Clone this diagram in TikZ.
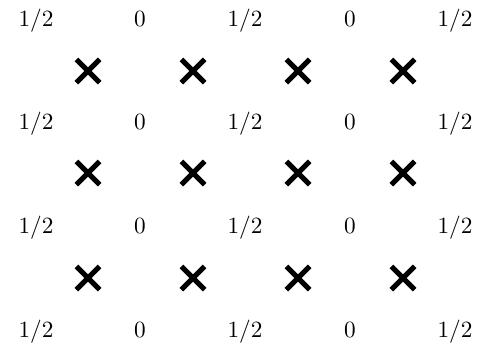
\documentclass[tikz,border=0pt]{standalone}
\usetikzlibrary{shapes.misc}
\begin{document}
\begin{tikzpicture}[x=0.43pt,y=-0.43pt,
  val/.style={inner sep=0pt,anchor=base,font=\normalsize},
  xmark/.style={cross out,draw=black,line width=2.2pt,inner sep=0pt,minimum size=7.8pt}]
\useasboundingbox (0,0) rectangle (487,349);
\foreach \r/\yy in {0/26,1/129.5,2/233,3/337}{
  \node[val] (h0\r) at (36,\yy) {$1/2$};
  \node[val] (z1\r) at (140,\yy) {$0$};
  \node[val] (h2\r) at (245,\yy) {$1/2$};
  \node[val] (z3\r) at (350,\yy) {$0$};
  \node[val] (h4\r) at (455,\yy) {$1/2$};
}
\foreach \r/\yy in {0/71,1/173,2/278}{
  \foreach \c/\xx in {0/88,1/193,2/298,3/403}{
    \node[xmark] (x\c\r) at (\xx,\yy) {};
  }
}
\end{tikzpicture}
\end{document}
